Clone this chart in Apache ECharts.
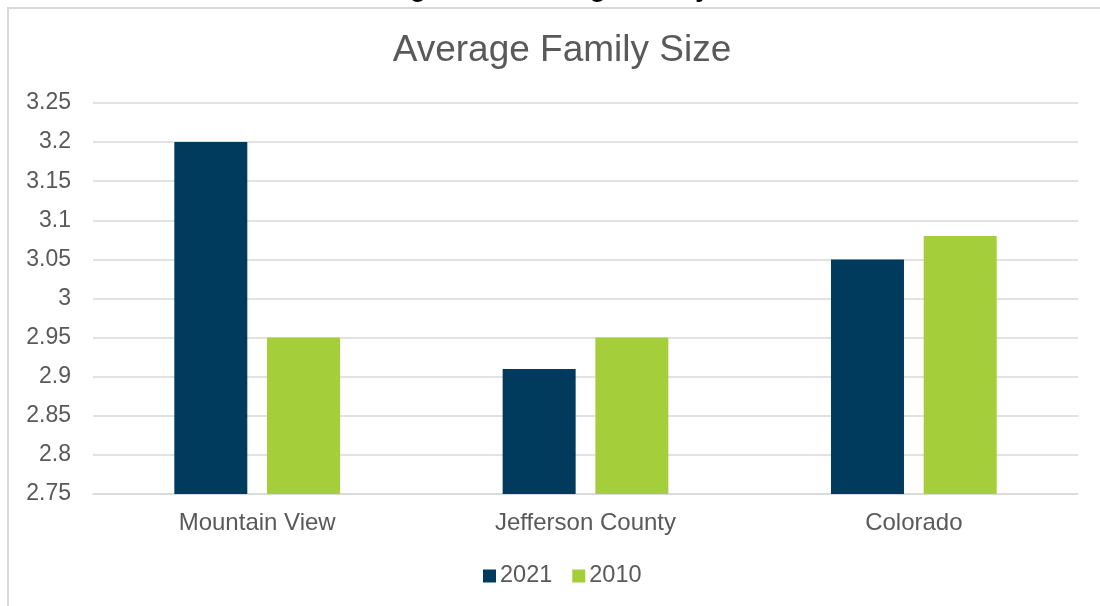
<!DOCTYPE html>
<html>
<head>
<meta charset="utf-8">
<script src="https://cdn.jsdelivr.net/npm/echarts@6/dist/echarts.min.js"></script>
<style>
html,body{margin:0;padding:0;background:#fff;}
#c{width:1100px;height:606px;}
</style>
</head>
<body>
<div id="c"></div>
<script>
const categories = ['Mountain View', 'Jefferson County', 'Colorado'];
const series2021 = [3.2, 2.91, 3.05];
const series2010 = [2.95, 2.95, 3.08];
const seriesNames = ['2021', '2010'];
const yMin = 2.75, yMax = 3.25, yStep = 0.05;

const FONT = "'Liberation Sans', Arial, sans-serif";
const chart = echarts.init(document.getElementById('c'), null, {renderer: 'canvas'});
chart.setOption({
  animation: false,
  backgroundColor: '#ffffff',
  title: {
    text: 'Average Family Size',
    left: 557, top: 27, textAlign: 'center',
    textStyle: {fontFamily: FONT, fontSize: 37, fontWeight: 'normal', color: '#595959'}
  },
  graphic: [
    {type: 'rect', shape: {x: 8, y: 8, width: 1200, height: 700},
     style: {fill: 'none', stroke: '#d9d9d9', lineWidth: 2}, silent: true},
    {type: 'text', left: 387, top: -23,
     style: {text: 'Figure 14: Average Family Size', fontFamily: FONT, fontSize: 26, fontWeight: 'bold', fill: '#000'}}
  ],
  legend: {
    data: seriesNames,
    left: 478, top: 559,
    itemWidth: 13, itemHeight: 13, itemGap: 20,
    icon: 'rect',
    textStyle: {fontFamily: FONT, fontSize: 23.5, color: '#595959', padding: [0, 0, 0, -1]}
  },
  grid: {left: 93, right: 22, top: 103, bottom: 112, containLabel: false},
  xAxis: {
    type: 'category', data: categories,
    axisLine: {show: true, lineStyle: {color: '#d9d9d9', width: 1.5}},
    axisTick: {show: false},
    axisLabel: {fontFamily: FONT, fontSize: 24, color: '#595959', margin: 17}
  },
  yAxis: {
    type: 'value', min: yMin, max: yMax, interval: yStep,
    axisLine: {show: false}, axisTick: {show: false},
    splitLine: {lineStyle: {color: '#d9d9d9', width: 1.5}},
    axisLabel: {fontFamily: FONT, fontSize: 23, color: '#595959', margin: 22,
      formatter: v => String(+v.toFixed(2))}
  },
  series: [
    {name: seriesNames[0], type: 'bar', data: series2021, barWidth: 73, barGap: '27%',
     itemStyle: {color: '#003A5D'}},
    {name: seriesNames[1], type: 'bar', data: series2010, barWidth: 73,
     itemStyle: {color: '#A4CF3B'}}
  ]
});
</script>
</body>
</html>
